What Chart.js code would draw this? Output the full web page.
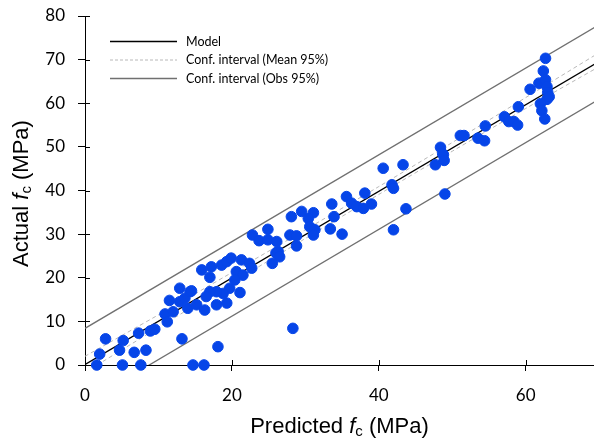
<!DOCTYPE html>
<html>
<head>
<meta charset="utf-8">
<script src="https://cdn.jsdelivr.net/npm/chart.js@4.4.0/dist/chart.umd.min.js"></script>
<style>
  html, body { margin: 0; padding: 0; background: #fff; overflow: hidden; }
  #wrap { width: 594px; height: 440px; }
</style>
</head>
<body>
<div id="wrap"><canvas id="chart"></canvas></div>
<script>
// scatter points (predicted vs actual, MPa)
const predicted = [
  1.6, 5.1, 7.6, 14.7, 16.2,
  2.0, 2.8, 5.2, 4.7, 6.7, 8.3, 7.3, 8.9, 9.5, 13.2, 10.9, 11.2, 12.0, 11.5, 12.9,
  12.9, 13.6, 14.3, 14.0, 14.5, 15.2, 16.3, 18.1,
  15.9, 17.0, 17.2, 18.6, 19.3, 19.9, 21.3, 22.4, 22.7, 20.6, 21.5, 20.4, 19.7, 18.8,
  17.9, 17.0, 16.5, 17.9, 19.3, 21.1, 22.8, 23.7, 24.9, 24.9, 26.1, 26.3, 26.0, 26.5,
  25.5, 28.1,
  29.5, 31.1, 30.4, 27.9, 28.8, 28.8, 30.6, 31.3, 31.1, 33.4, 33.6, 33.9, 35.0, 35.6,
  36.3, 37.0, 37.9, 38.1, 39.0, 40.6, 41.8, 42.0, 43.3, 43.7, 42.0, 28.3, 47.7, 48.8,
  49.0, 48.4, 48.7, 48.9,
  51.1, 51.6, 53.5, 54.4, 54.5, 57.1, 57.7, 58.4, 58.9, 59.0, 60.6, 61.8, 62.7, 62.4,
  62.7, 62.9, 63.0, 62.9, 62.0, 62.2, 62.6, 63.2
];
const actual = [
  0, 0, 0, 0, 0,
  2.5, 6.0, 5.6, 3.4, 2.9, 3.4, 7.3, 7.8, 8.2, 6.0, 11.7, 9.9, 12.2, 14.8, 17.6,
  14.5, 15.3, 16.8, 13.0, 17.0, 13.8, 12.6, 4.2,
  21.8, 20.1, 22.5, 22.9, 23.7, 24.5, 24.1, 23.3, 22.2, 21.4, 20.6, 19.5, 17.6, 16.4,
  16.8, 16.8, 15.7, 13.8, 14.2, 16.6, 29.8, 28.5, 31.1, 28.7, 28.3, 26.0, 25.7, 24.8,
  23.3, 34.0,
  35.2, 34.9, 33.6, 29.8, 29.6, 27.3, 31.7, 31.0, 29.8, 31.2, 36.9, 34.0, 30.0, 38.6,
  37.1, 36.3, 35.9, 39.4, 36.9, 45.1, 41.3, 40.5, 45.9, 35.8, 31.0, 8.4, 45.9, 48.2,
  39.2, 49.9, 48.4, 46.9,
  52.6, 52.6, 52.0, 51.4, 54.8, 56.9, 55.8, 55.8, 55.0, 59.2, 63.2, 64.6, 70.3, 67.4,
  65.4, 63.8, 62.5, 60.9, 59.9, 58.3, 56.4, 61.5
];

// fitted lines
const lineX = [0, 70];
const modelY = [0.1, 69.6];
const obsUpperY = [8.4, 78.0];
const obsLowerY = [-8.7, 60.9];

const ciX = [0, 10, 20, 30, 40, 50, 60, 70];
const ciUpperY = [2.0, 11.5, 21.2, 31.0, 40.9, 51.0, 61.3, 71.6];
const ciLowerY = [-1.7, 8.6, 18.8, 29.0, 39.1, 49.0, 58.8, 68.4];

const yTicks = [0, 10, 20, 30, 40, 50, 60, 70, 80];
const xTicks = [0, 20, 40, 60];

const legendItems = ['Model', 'Conf. interval (Mean 95%)', 'Conf. interval (Obs 95%)'];

const toPts = (xs, ys) => xs.map((x, i) => ({ x: x, y: ys[i] }));

const blue = '#0645e8';
const obsGray = '#707070';
const meanGray = '#b8b8b8';

function drawRich(ctx, parts, cx, cy) {
  let total = 0;
  parts.forEach(p => { ctx.font = p.font; p.w = ctx.measureText(p.text).width; total += p.w; });
  let x = cx - total / 2;
  ctx.textBaseline = 'middle';
  ctx.textAlign = 'left';
  parts.forEach(p => {
    ctx.font = p.font;
    ctx.fillText(p.text, x, cy + (p.dy || 0));
    x += p.w;
  });
}

const extras = {
  id: 'extras',
  afterDraw(chart) {
    const ctx = chart.ctx;
    const area = chart.chartArea;
    const xs = chart.scales.x;
    const ys = chart.scales.y;
    ctx.save();

    // inner halves of the crossing tick marks
    ctx.strokeStyle = '#000';
    ctx.lineWidth = 1;
    ctx.beginPath();
    yTicks.forEach(v => {
      const py = Math.round(ys.getPixelForValue(v)) + 0.5;
      ctx.moveTo(area.left, py);
      ctx.lineTo(area.left + 5, py);
    });
    xTicks.forEach(v => {
      const px = Math.round(xs.getPixelForValue(v)) + 0.5;
      ctx.moveTo(px, area.bottom);
      ctx.lineTo(px, area.bottom - 5);
    });
    ctx.stroke();

    // legend
    const styles = [
      { color: '#000', dash: [], width: 1.3 },
      { color: meanGray, dash: [3, 2], width: 1 },
      { color: obsGray, dash: [], width: 1.3 }
    ];
    const rowY = [41.5, 60, 78.5];
    legendItems.forEach((label, i) => {
      ctx.beginPath();
      ctx.strokeStyle = styles[i].color;
      ctx.lineWidth = styles[i].width;
      ctx.setLineDash(styles[i].dash);
      ctx.moveTo(110, rowY[i]);
      ctx.lineTo(177, rowY[i]);
      ctx.stroke();
      ctx.setLineDash([]);
      ctx.fillStyle = '#000';
      ctx.font = '12.5px Lato';
      ctx.textAlign = 'left';
      ctx.textBaseline = 'middle';
      ctx.fillText(label, 186, rowY[i]);
    });

    // axis titles with italic f and subscript c
    ctx.fillStyle = '#000';
    const normal = '22px "Liberation Sans"';
    const italic = 'italic 22px "Liberation Sans"';
    const sub = '15px "Liberation Sans"';
    drawRich(ctx, [
      { text: 'Predicted ', font: normal },
      { text: 'f', font: italic },
      { text: 'c', font: sub, dy: 5 },
      { text: ' (MPa)', font: normal }
    ], (area.left + area.right) / 2, 427);

    ctx.translate(22, (area.top + area.bottom) / 2 + 3);
    ctx.rotate(-Math.PI / 2);
    drawRich(ctx, [
      { text: 'Actual ', font: normal },
      { text: 'f', font: italic },
      { text: 'c', font: sub, dy: 5 },
      { text: ' (MPa)', font: normal }
    ], 0, 0);
    ctx.restore();
  }
};

new Chart(document.getElementById('chart'), {
  type: 'scatter',
  data: {
    datasets: [
      {
        label: 'Data',
        data: toPts(predicted, actual),
        backgroundColor: blue,
        borderColor: blue,
        pointRadius: 5.3,
        pointHoverRadius: 5.3,
        clip: false
      },
      {
        label: 'Model',
        type: 'line',
        data: toPts(lineX, modelY),
        borderColor: '#000',
        borderWidth: 1.3,
        pointRadius: 0
      },
      {
        label: 'Conf. interval (Mean 95%)',
        type: 'line',
        data: toPts(ciX, ciUpperY),
        borderColor: meanGray,
        borderWidth: 1,
        borderDash: [4, 3],
        pointRadius: 0,
        tension: 0.3
      },
      {
        label: 'Conf. interval (Mean 95%) lower',
        type: 'line',
        data: toPts(ciX, ciLowerY),
        borderColor: meanGray,
        borderWidth: 1,
        borderDash: [4, 3],
        pointRadius: 0,
        tension: 0.3
      },
      {
        label: 'Conf. interval (Obs 95%)',
        type: 'line',
        data: toPts(lineX, obsUpperY),
        borderColor: obsGray,
        borderWidth: 1.3,
        pointRadius: 0
      },
      {
        label: 'Conf. interval (Obs 95%) lower',
        type: 'line',
        data: toPts(lineX, obsLowerY),
        borderColor: obsGray,
        borderWidth: 1.3,
        pointRadius: 0
      }
    ]
  },
  options: {
    responsive: true,
    maintainAspectRatio: false,
    animation: false,
    layout: { autoPadding: false, padding: { top: 16, left: 0, right: 0, bottom: 0 } },
    plugins: {
      legend: { display: false },
      tooltip: { enabled: false }
    },
    scales: {
      x: {
        type: 'linear',
        min: 0,
        max: 69.3,
        afterBuildTicks: s => { s.ticks = xTicks.map(v => ({ value: v })); },
        afterFit: s => { s.height = 75; s.paddingLeft = 0; s.paddingRight = 0; },
        grid: { drawOnChartArea: false, color: '#000', tickLength: 6, tickWidth: 1 },
        border: { color: '#000', width: 1 },
        ticks: { color: '#000', padding: 14, maxRotation: 0, font: { family: 'Lato', size: 17 } }
      },
      y: {
        min: 0,
        max: 80,
        afterBuildTicks: s => { s.ticks = yTicks.map(v => ({ value: v })); },
        afterFit: s => { s.width = 85; s.paddingTop = 0; s.paddingBottom = 0; },
        grid: { drawOnChartArea: false, color: '#000', tickLength: 7, tickWidth: 1 },
        border: { color: '#000', width: 1 },
        ticks: { color: '#000', padding: 13, font: { family: 'Lato', size: 17 } }
      }
    }
  },
  plugins: [extras]
});
</script>
</body>
</html>
